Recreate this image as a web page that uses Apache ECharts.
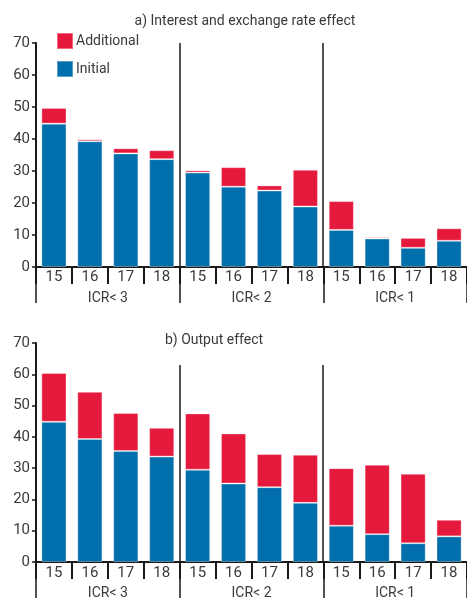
<!DOCTYPE html>
<html><head><meta charset="utf-8">
<script src="https://cdn.jsdelivr.net/npm/echarts/dist/echarts.min.js"></script>
<style>html,body{margin:0;padding:0;background:#fff}#c{width:467px;height:600px}</style>
</head><body><div id="c"></div>
<script>
// ---- data ----
const years = ['15','16','17','18','15','16','17','18','15','16','17','18'];
const groups = ['ICR< 3','ICR< 2','ICR< 1'];
const initialA    = [44.8, 39.3, 35.5, 33.7, 29.5, 25.1, 23.9, 18.9, 11.6, 8.9, 6.0, 8.2];
const additionalA = [ 4.9,  0.6,  1.6,  2.8,  0.7,  6.1,  1.6, 11.5,  9.0, 0.4, 3.1, 3.9];
const initialB    = [44.8, 39.3, 35.5, 33.7, 29.5, 25.1, 23.9, 18.9, 11.6, 8.9, 6.0, 8.2];
const additionalB = [15.6, 15.1, 12.1,  9.2, 18.0, 16.0, 10.6, 15.4, 18.4, 22.2, 22.2, 5.3];
const titleA = 'a) Interest and exchange rate effect';
const titleB = 'b) Output effect';
const yMin = 0, yMax = 70, yStep = 10;

// ---- style ----
const FONT = "'Liberation Sans Narrow','Roboto',sans-serif";
const FS = 14;
const TXT = '#3a3a3a';
const AX = '#1a1a1a';
const RED = '#e5193b';
const BLUE = '#006fab';

const chart = echarts.init(document.getElementById('c'), null, {renderer:'canvas'});

function yAxis(gi){
  return {type:'value', gridIndex:gi, min:yMin, max:yMax, interval:yStep,
    axisLine:{show:true, lineStyle:{color:AX, width:2}},
    axisTick:{show:true, length:4, lineStyle:{color:AX, width:1.5}},
    axisLabel:{color:TXT, fontFamily:FONT, fontSize:FS+1, margin:6},
    splitLine:{show:false}};
}
function catAxis(gi, margin){
  return {type:'category', gridIndex:gi, data:years, position:'bottom', boundaryGap:true,
    axisLine:{show:true, onZero:false, lineStyle:{color:AX, width:2}},
    axisTick:{show:true, interval:0, length:17, alignWithLabel:false, lineStyle:{color:AX, width:2}},
    axisLabel:{color:TXT, fontFamily:FONT, fontSize:FS+1, margin:margin, interval:0},
    splitLine:{show:false}};
}
function grpAxis(gi, margin){
  return {type:'category', gridIndex:gi, data:groups, position:'bottom', boundaryGap:true,
    axisLine:{show:false},
    axisTick:{show:true, interval:0, length:36, alignWithLabel:false, lineStyle:{color:AX, width:1.5}},
    axisLabel:{color:TXT, fontFamily:FONT, fontSize:FS, margin:margin, interval:0},
    splitLine:{show:false}};
}
function bar(name, xi, yi, data, color){
  return {name:name, type:'bar', stack:'s'+xi, xAxisIndex:xi, yAxisIndex:yi, data:data,
    barCategoryGap:'30%',
    itemStyle:{color:color, borderColor:'rgba(255,255,255,0.35)', borderWidth:1},
    emphasis:{disabled:true}, animation:false};
}

const option = {
  animation:false,
  backgroundColor:'#fff',
  textStyle:{fontFamily:FONT},
  grid:[
    {left:36, top:43, width:431, height:224},
    {left:36, top:343, width:431, height:222}
  ],
  legend:{
    data:['Additional','Initial'], orient:'vertical', left:56, top:32, padding:0,
    icon:'rect', itemWidth:16, itemHeight:16, itemGap:10,
    textStyle:{color:TXT, fontFamily:FONT, fontSize:FS, padding:[0,0,0,-2]},
    selectedMode:false
  },
  xAxis:[catAxis(0,3), grpAxis(0,24), catAxis(1,4), grpAxis(1,24)],
  yAxis:[yAxis(0), yAxis(1)],
  series:[
    bar('Initial', 0, 0, initialA, BLUE),
    bar('Additional', 0, 0, additionalA, RED),
    bar('Initial', 2, 1, initialB, BLUE),
    bar('Additional', 2, 1, additionalB, RED)
  ]
};
chart.setOption(option);

// group separators and titles
function sepLines(xi, yi, topVal){
  const out = [];
  [4, 8].forEach(function(k){
    const a = chart.convertToPixel({xAxisIndex:xi}, k-1);
    const b = chart.convertToPixel({xAxisIndex:xi}, k);
    const x = Math.round((a+b)/2);
    const y1 = chart.convertToPixel({yAxisIndex:yi}, topVal);
    const y2 = chart.convertToPixel({yAxisIndex:yi}, 0);
    out.push({type:'line', shape:{x1:x, y1:y1, x2:x, y2:y2}, style:{stroke:AX, lineWidth:1.5}, silent:true});
  });
  return out;
}
const g = [].concat(sepLines(0,0,70), sepLines(2,1,63));
g.push({type:'text', x:245, y:21, style:{text:titleA, fill:TXT, font:FS+'px '+FONT, align:'center', verticalAlign:'middle'}});
g.push({type:'text', x:214, y:340, style:{text:titleB, fill:TXT, font:FS+'px '+FONT, align:'center', verticalAlign:'middle'}});
chart.setOption({graphic:g});
</script>
</body></html>
